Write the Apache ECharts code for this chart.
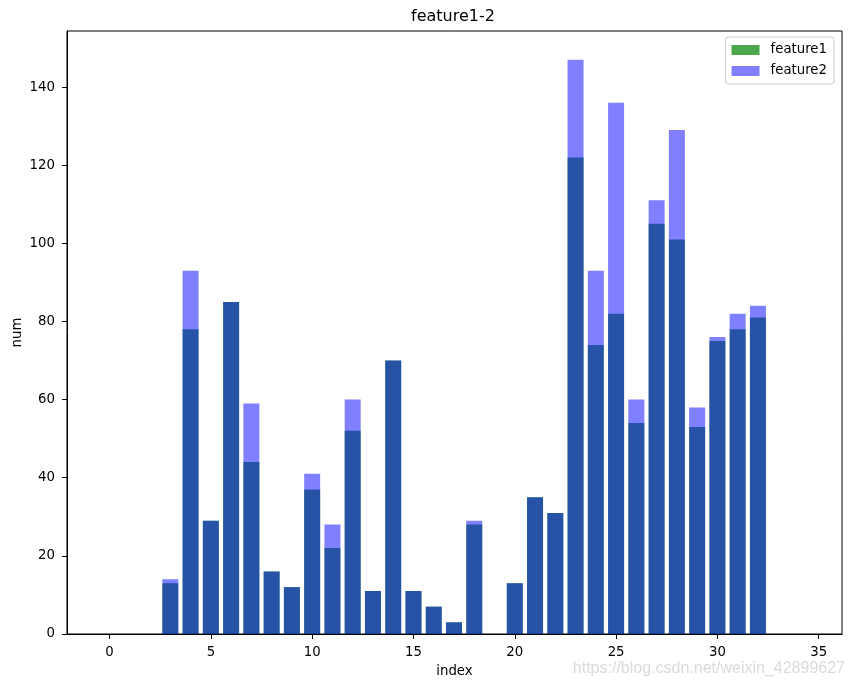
<!DOCTYPE html>
<html>
<head>
<meta charset="utf-8">
<script src="https://cdn.jsdelivr.net/npm/echarts@6/dist/echarts.min.js"></script>
<style>html,body{margin:0;padding:0;background:#fff}#c{width:854px;height:687px}</style>
</head>
<body>
<div id="c"></div>
<script>
const indices = [0,1,2,3,4,5,6,7,8,9,10,11,12,13,14,15,16,17,18,19,20,21,22,23,24,25,26,27,28,29,30,31,32,33,34];
const feature1 = [0,0,0,13,78,29,85,44,16,12,37,22,52,11,70,11,7,3,28,0,13,35,31,122,74,82,54,105,101,53,75,78,81,0,0];
const feature2 = [0,0,0,14,93,29,85,59,16,12,41,28,60,11,70,11,7,3,29,0,13,35,31,147,93,136,60,111,129,58,76,82,84,0,0];
const xTicks = [0,5,10,15,20,25,30,35];
const yTicks = [0,20,40,60,80,100,120,140];
const seriesNames = ['feature1','feature2'];
const titleText = 'feature1-2';
const xName = 'index';
const yName = 'num';
const watermark = 'https://blog.csdn.net/weixin_42899627';

const FONT = 'DejaVu Sans';
const chart = echarts.init(document.getElementById('c'), null, {renderer:'canvas'});
const pair = (vals) => indices.map((x,i) => [x, vals[i]]);

chart.setOption({
  animation: false,
  backgroundColor: '#fff',
  title: {
    text: titleText, left: 453, top: 9, textAlign: 'center', padding: 0,
    textStyle: {fontFamily: FONT, fontSize: 16, fontWeight: 'normal', color: '#000'}
  },
  legend: {
    orient: 'vertical', right: 20, top: 37,
    itemWidth: 28, itemHeight: 10, itemGap: 7,
    padding: [6, 7, 6, 6],
    backgroundColor: 'rgba(255,255,255,0.8)', borderColor: '#cccccc', borderWidth: 1, borderRadius: 3,
    icon: 'rect',
    textStyle: {fontFamily: FONT, fontSize: 13.3, color: '#000', padding: [0,0,0,6], lineHeight: 14},
    data: seriesNames
  },
  grid: {left: 67, right: 12, top: 31, bottom: 53, outerBoundsMode: 'none', containLabel: false,
    show: true, borderColor: '#000', borderWidth: 1, backgroundColor: 'transparent'},
  xAxis: {
    type: 'value', min: -2.1, max: 36.15,
    name: xName, nameLocation: 'middle', nameGap: 31, nameMoveOverlap: false,
    nameTextStyle: {fontFamily: FONT, fontSize: 13.3, color: '#000'},
    axisLine: {show: true, onZero: false, lineStyle: {color: '#000', width: 1}},
    axisTick: {show: true, length: 5, lineStyle: {color: '#000'}, customValues: xTicks},
    axisLabel: {fontFamily: FONT, fontSize: 13.3, color: '#000', margin: 12, customValues: xTicks},
    splitLine: {show: false}
  },
  yAxis: {
    type: 'value', min: 0, max: 154.35,
    name: yName, nameLocation: 'middle', nameGap: 43, nameRotate: 90, nameMoveOverlap: false,
    nameTextStyle: {fontFamily: FONT, fontSize: 13.3, color: '#000'},
    axisLine: {show: true, onZero: false, lineStyle: {color: '#000', width: 1}},
    axisTick: {show: true, length: 5, lineStyle: {color: '#000'}, customValues: yTicks},
    axisLabel: {fontFamily: FONT, fontSize: 13.3, color: '#000', margin: 12, customValues: yTicks},
    splitLine: {show: false}
  },
  series: [
    {name: seriesNames[0], type: 'bar', data: pair(feature1), barWidth: 16, barGap: '-100%',
     itemStyle: {color: 'rgba(0,128,0,0.7)'}},
    {name: seriesNames[1], type: 'bar', data: pair(feature2), barWidth: 16, barGap: '-100%',
     itemStyle: {color: 'rgba(0,0,255,0.5)'}}
  ],
  graphic: [{
    type: 'text', right: 9, top: 661, silent: true,
    style: {text: watermark, font: '16px "Liberation Sans", Arial, sans-serif', fill: '#dadada'}
  }]
});
</script>
</body>
</html>
